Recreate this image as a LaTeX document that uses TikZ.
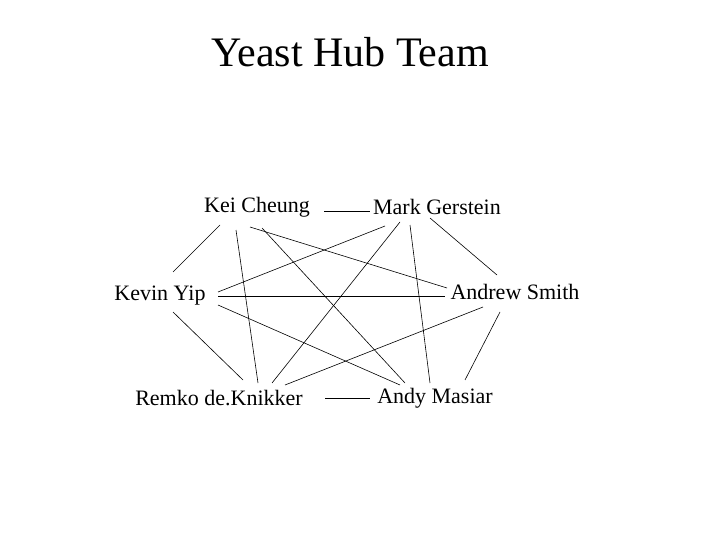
\documentclass[tikz,border=0pt]{standalone}
\usepackage{fontspec}
\setmainfont{Liberation Serif}
\begin{document}
\begin{tikzpicture}[x=1pt,y=-1pt,
  person/.style={font=\fontsize{22}{24}\selectfont, inner sep=0pt},
  link/.style={draw=black, line width=0.6pt}]
\useasboundingbox (0,0) rectangle (720,540);
\node[font=\fontsize{42}{46}\selectfont] (title) at (350,52) {Yeast Hub Team};
\node[person] (kei) at (257,207) {Kei Cheung};
\node[person] (mark) at (437,207) {Mark Gerstein};
\node[person] (kevin) at (160,296) {Kevin Yip};
\node[person] (andrew) at (515,292) {Andrew Smith};
\node[person] (remko) at (219,398) {Remko de.Knikker};
\node[person] (andy) at (435,398) {Andy Masiar};
% endpoints as named coordinates relative to nodes
\coordinate (k-e) at ([shift={(14,4)}]kei.east);
\coordinate (m-w) at ([shift={(-3,4)}]mark.west);
\coordinate (k-1) at (220,225);
\coordinate (k-2) at (236,230);
\coordinate (k-3) at (250,227);
\coordinate (k-4) at (262,228);
\coordinate (m-1) at (385,226);
\coordinate (m-2) at (400,222);
\coordinate (m-3) at (410,225);
\coordinate (m-4) at (430,218);
\coordinate (v-1) at (173,272);
\coordinate (v-2) at (218,292);
\coordinate (v-3) at (218,296);
\coordinate (v-4) at (218,305);
\coordinate (v-5) at (173,312);
\coordinate (a-1) at (447,288);
\coordinate (a-2) at (445,296);
\coordinate (a-3) at (497,275);
\coordinate (a-4) at (483,307);
\coordinate (a-5) at (500,312);
\coordinate (r-1) at (258,383);
\coordinate (r-2) at (272,383);
\coordinate (r-3) at (243,380);
\coordinate (r-4) at (285,385);
\coordinate (r-e) at (325,398);
\coordinate (y-1) at (405,383);
\coordinate (y-2) at (430,383);
\coordinate (y-3) at (400,385);
\coordinate (y-4) at (465,380);
\coordinate (y-w) at (370,398);
\draw[link] (k-e) -- (m-w);
\draw[link] (k-1) -- (v-1);
\draw[link] (k-2) -- (r-1);
\draw[link] (k-3) -- (a-1);
\draw[link] (k-4) -- (y-1);
\draw[link] (m-1) -- (v-2);
\draw[link] (m-2) -- (r-2);
\draw[link] (m-3) -- (y-2);
\draw[link] (m-4) -- (a-3);
\draw[link] (v-3) -- (a-2);
\draw[link] (v-4) -- (y-3);
\draw[link] (v-5) -- (r-3);
\draw[link] (a-4) -- (r-4);
\draw[link] (a-5) -- (y-4);
\draw[link] (r-e) -- (y-w);
\end{tikzpicture}
\end{document}
